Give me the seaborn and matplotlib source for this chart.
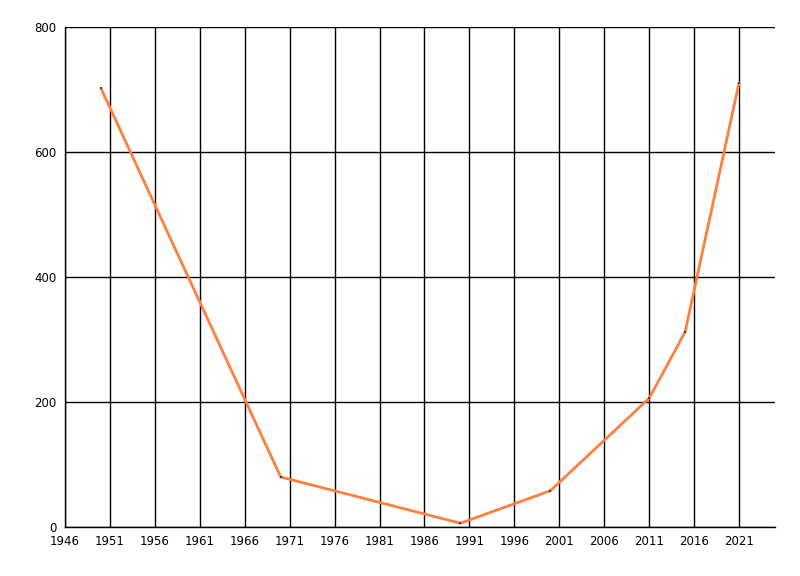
import pandas as pd
import seaborn as sns
import matplotlib.pyplot as plt

years = [1950, 1970, 1990, 2000, 2011, 2015, 2021]
values = [702, 80, 6, 58, 206, 312, 711]
x_ticks = list(range(1946, 2022, 5))
y_ticks = [0, 200, 400, 600, 800]

df = pd.DataFrame({'year': years, 'value': values})

sns.set_style('white')
plt.rcParams['font.family'] = ['DejaVu Sans']

fig = plt.figure(figsize=(8, 5.76), dpi=100)
ax = fig.add_axes([0.08125, 0.0851, 0.8875, 0.868])

sns.lineplot(data=df, x='year', y='value', color='#ff7f3f', linewidth=2, ax=ax,
             marker='s', markersize=2, markerfacecolor='#444444', markeredgewidth=0)

ax.set_xlim(1946, 2025)
ax.set_ylim(0, 800)
ax.set_xticks(x_ticks)
ax.set_yticks(y_ticks)
ax.set_xlabel('')
ax.set_ylabel('')
ax.tick_params(labelsize=8.5, length=4, width=1, color='black', labelcolor='black', pad=2)

ax.grid(True, color='black', linewidth=1)
ax.set_axisbelow(True)
for side in ['top', 'right']:
    ax.spines[side].set_visible(False)
for side in ['left', 'bottom']:
    ax.spines[side].set_color('black')
    ax.spines[side].set_linewidth(1)

fig.savefig('out.png', dpi=100)
